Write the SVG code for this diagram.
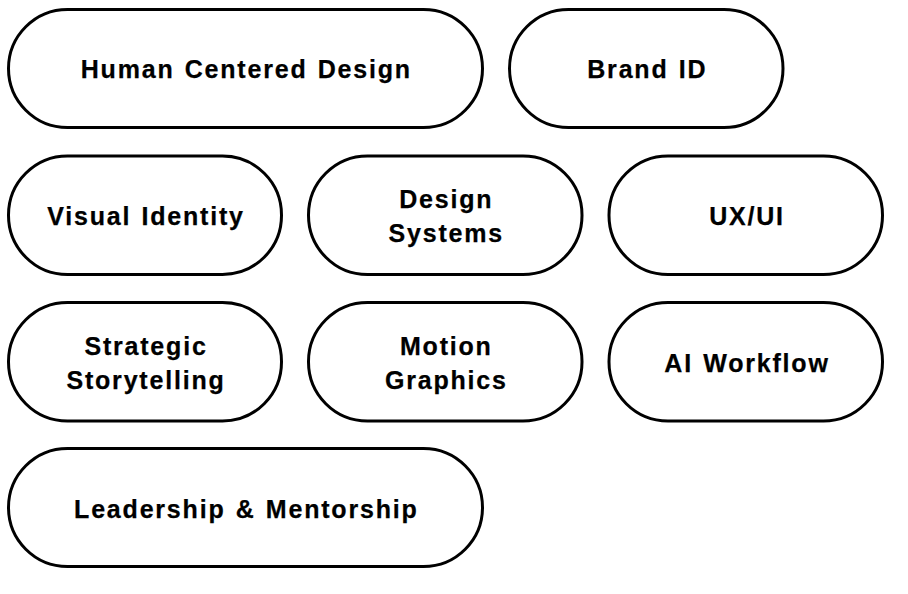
<svg xmlns="http://www.w3.org/2000/svg" width="908" height="594" viewBox="0 0 908 594">
<style>
.pill{fill:#fff;stroke:#000;stroke-width:3}
.t{font-family:"Liberation Sans",Arial,Helvetica,sans-serif;font-weight:bold;font-size:25px;letter-spacing:1.8px;word-spacing:1.5px;fill:#000;stroke:#000;stroke-width:0.25px;text-anchor:middle}
</style>
<rect width="908" height="594" fill="#fff"/>
<g id="connectors"></g>
<g id="human-centered-design">
<rect class="pill" x="8.5" y="9.5" width="474" height="118" rx="59"/>
<text class="t" x="246.3" y="78">Human Centered Design</text>
</g>
<g id="brand-id">
<rect class="pill" x="509.5" y="9.5" width="273.5" height="118" rx="59"/>
<text class="t" x="647.3" y="78">Brand ID</text>
</g>
<g id="visual-identity">
<rect class="pill" x="8.5" y="156" width="273" height="118.5" rx="59"/>
<text class="t" x="146" y="224.5">Visual Identity</text>
</g>
<g id="design-systems">
<rect class="pill" x="308.5" y="156" width="273.5" height="118.5" rx="59"/>
<text class="t" x="446.3" y="207.5">Design</text>
<text class="t" x="446.3" y="241.5">Systems</text>
</g>
<g id="ux-ui">
<rect class="pill" x="609" y="156" width="273.5" height="118.5" rx="59"/>
<text class="t" x="747" y="224.5">UX/UI</text>
</g>
<g id="strategic-storytelling">
<rect class="pill" x="8.5" y="302.5" width="273" height="118.5" rx="59"/>
<text class="t" x="146" y="354.5">Strategic</text>
<text class="t" x="146" y="388.5">Storytelling</text>
</g>
<g id="motion-graphics">
<rect class="pill" x="308.5" y="302.5" width="273.5" height="118.5" rx="59"/>
<text class="t" x="446.3" y="354.5">Motion</text>
<text class="t" x="446.3" y="388.5">Graphics</text>
</g>
<g id="ai-workflow">
<rect class="pill" x="609" y="302.5" width="273.5" height="118.5" rx="59"/>
<text class="t" x="747" y="371.5">AI Workflow</text>
</g>
<g id="leadership-mentorship">
<rect class="pill" x="8.5" y="448.5" width="474" height="118" rx="59"/>
<text class="t" x="246.3" y="517.5">Leadership &amp; Mentorship</text>
</g>
</svg>
